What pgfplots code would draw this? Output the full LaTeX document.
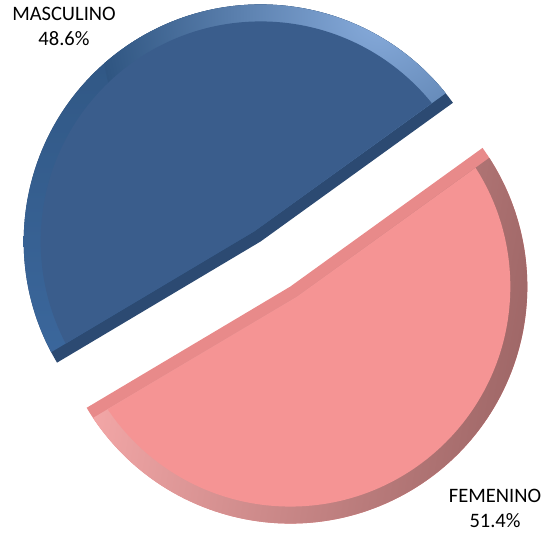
\documentclass[border=0pt]{standalone}
\usepackage{fontspec}
\setmainfont{Carlito}
\usepackage{pgfplots}
\pgfplotsset{compat=1.18}

\definecolor{mascface}{HTML}{3A5D8C}
\definecolor{masccut}{HTML}{2C4A72}
\definecolor{masclight}{HTML}{88ACDC}
\definecolor{mascmid}{HTML}{2F5581}
\definecolor{mascbot}{HTML}{3F6DA5}
\definecolor{femface}{HTML}{F59494}
\definecolor{femcut}{HTML}{E88A8A}
\definecolor{femleft}{HTML}{FFB0B0}
\definecolor{femmid}{HTML}{E29494}
\definecolor{femright}{HTML}{A06868}

% shares (percent)
\def\masc{48.6}
\def\fem{51.4}
\def\R{237}
\pgfmathsetmacro{\aone}{35.8}
\pgfmathsetmacro{\atwo}{\aone+3.6*\masc}
\pgfmathsetmacro{\athree}{\atwo+3.6*\fem}
\pgfmathsetmacro{\bmasc}{(\aone+\atwo)/2}
\pgfmathsetmacro{\bfem}{(\atwo+\athree)/2}
% common centre and explode distance
\def\cx{275.5}
\def\cy{271}
\pgfmathsetmacro{\mx}{\cx+27*cos(\bmasc)}
\pgfmathsetmacro{\my}{\cy+27*sin(\bmasc)}
\pgfmathsetmacro{\fx}{\cx+27*cos(\bfem)}
\pgfmathsetmacro{\fy}{\cy+27*sin(\bfem)}
\pgfmathsetmacro{\Rout}{\R+15}
\pgfmathsetmacro{\Rin}{\R-17}

% #1,#2 centre, #3,#4 angles, #5 bisector, #6 rim shading, #7 cut colour, #8 face colour, #9 highlight
\newcommand{\pieslice}[9]{%
  \fill[#7] (axis cs:#1,#2) -- ++(#3:\R) arc[start angle=#3, end angle=#4, radius=\R] -- cycle;
  \begin{scope}
    \clip ([shift={(#5:12)}]axis cs:#1,#2) -- ++(#3:\Rout) arc[start angle=#3, end angle=#4, radius=\Rout] -- cycle;
    \clip (axis cs:#1,#2) -- ++(#3:\R) arc[start angle=#3, end angle=#4, radius=\R] -- cycle;
    \shade[#6] (axis cs:#1,#2) circle[radius=\R];
    #9
    \fill[#8] (axis cs:#1,#2) circle[radius=\Rin];
  \end{scope}
}

\begin{document}
\begin{tikzpicture}
\begin{axis}[
    scale only axis,
    width=547pt, height=535pt,
    xmin=0, xmax=547, ymin=0, ymax=535,
    hide axis, clip=false]
  \pieslice{\mx}{\my}{\aone}{\atwo}{\bmasc}{top color=mascmid, bottom color=mascbot}{masccut}{mascface}%
    {\shade[inner color=masclight, outer color=mascmid] (axis cs:380,520) circle[radius=280];}
  \pieslice{\fx}{\fy}{\atwo}{\athree}{\bfem}{left color=femleft, middle color=femmid, right color=femright, shading angle=80}{femcut}{femface}{}
  \node[align=center, font=\fontsize{20.5}{25}\selectfont] at (axis cs:64,509) {MASCULINO\\\masc\%};
  \node[align=center, font=\fontsize{20.5}{25}\selectfont] at (axis cs:495,26.5) {FEMENINO\\\fem\%};
\end{axis}
\pgfresetboundingbox
\path (0,0) rectangle (547pt,535pt);
\end{tikzpicture}
\end{document}
